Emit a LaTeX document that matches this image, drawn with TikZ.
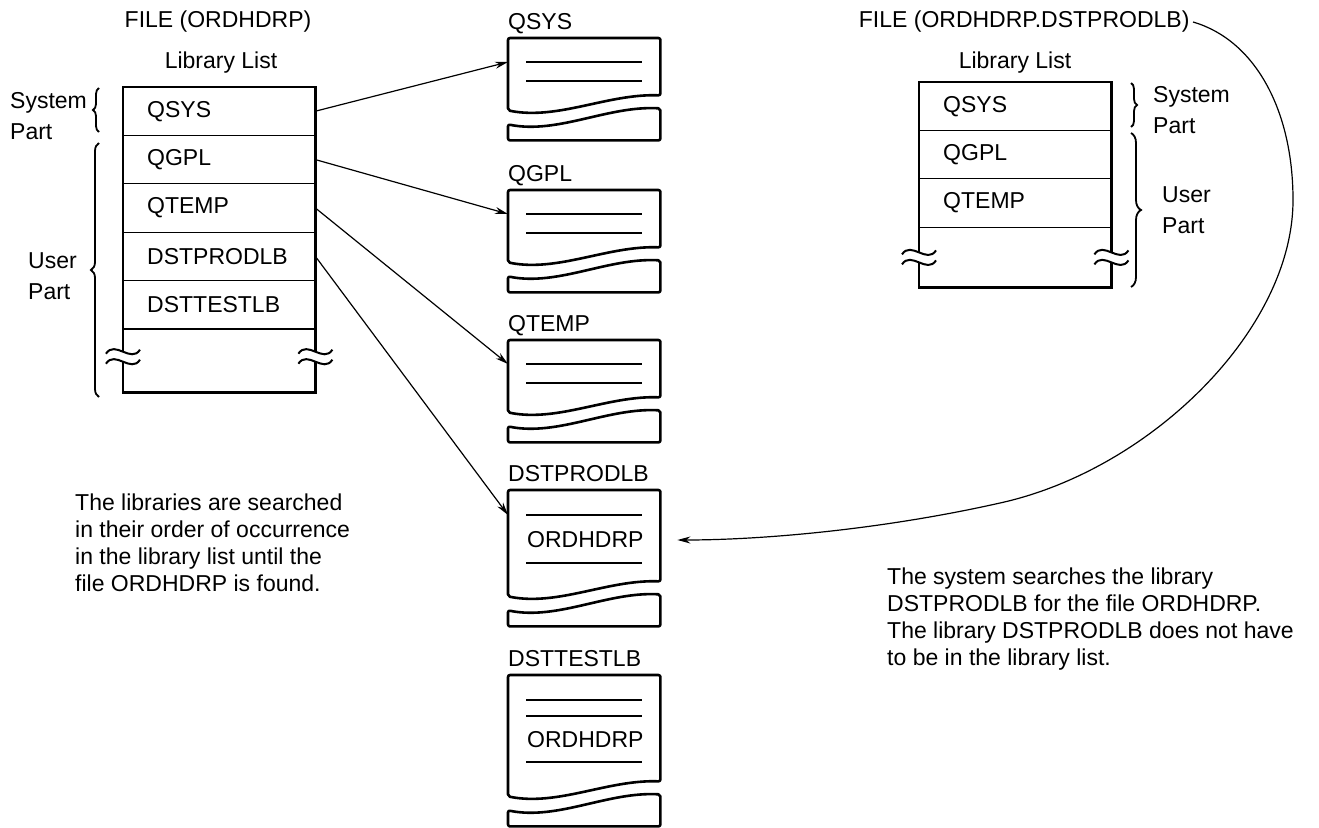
\documentclass[tikz,border=0pt]{standalone}
\usepackage{fontspec}
\setmainfont{Liberation Sans}
\usetikzlibrary{arrows.meta, positioning, calc, decorations.pathreplacing}

% page outline with torn-off bottom
\newcommand{\docpage}[1]{%
  \draw[docline] (#1.north west) -- ($(#1.south west)+(0,-30)$)
    .. controls ($(#1.south west)+(50,-20)$) and ($(#1.south west)+(100,-47)$) .. ($(#1.south east)+(0,-45)$)
    -- (#1.north east) -- cycle;
  \draw[docline] ($(#1.south west)+(0,-16)$)
    .. controls ($(#1.south west)+(50,-6)$) and ($(#1.south west)+(100,-35)$) .. ($(#1.south east)+(0,-32)$)
    -- (#1.south east) -- (#1.south west) -- cycle;
}

% break mark on a vertical edge
\newcommand{\gapmark}[1]{%
  \begin{scope}[shift={(#1)}]
    \fill[white] (-17,-3) .. controls (-8,-17) and (8,7) .. (17,-7) -- (17,3) .. controls (8,17) and (-8,-7) .. (-17,7) -- cycle;
    \draw[line width=2pt] (-17,-3) .. controls (-8,-17) and (8,7) .. (17,-7);
    \draw[line width=2pt] (-17,7) .. controls (-8,-7) and (8,17) .. (17,3);
  \end{scope}}

\begin{document}
\begin{tikzpicture}[
    x=1pt, y=-1pt,
    font=\fontsize{23}{27}\selectfont,
    row/.style={minimum height=48pt, text width=144pt, inner xsep=24pt, inner ysep=0pt, align=left},
    frame/.style={line width=2.4pt},
    sep/.style={line width=1.3pt},
    docbox/.style={anchor=north west, minimum width=152pt, inner sep=0pt},
    docline/.style={line width=2.6pt, line join=round, rounded corners=2pt},
    rule/.style={line width=1.3pt},
    doclabel/.style={anchor=base west, inner sep=0pt},
    side/.style={anchor=north west, align=left, inner sep=0pt, font=\fontsize{23}{31}\selectfont},
    note/.style={anchor=north west, align=left, inner sep=0pt},
    curly/.style={decorate, decoration={brace, amplitude=#1}, line width=1.8pt},
    arrow/.style={-{Stealth[length=13pt, width=7pt]}, line width=1.2pt},
]
    \useasboundingbox (0,0) rectangle (1319,827);

    % Left library list
    \node (ltitle) at (218,22) {FILE (ORDHDRP)};
    \node (llist) at (221,63) {Library List};
    \node[row, anchor=north west] (lsys) at (123,87) {QSYS};
    \node[row, below=0pt of lsys] (lgpl) {QGPL};
    \node[row, below=0pt of lgpl] (ltemp) {QTEMP};
    \node[row, below=0pt of ltemp] (lprod) {DSTPRODLB};
    \node[row, below=0pt of lprod] (ltest) {DSTTESTLB};
    \node[row, below=0pt of ltest, minimum height=63pt] (lrest) {};
    \draw[frame] (lsys.north west) rectangle (lrest.south east);
    \foreach \r in {lsys,lgpl,ltemp,lprod,ltest}
      \draw[sep] (\r.south west) -- (\r.south east);
    \gapmark{$(lrest.west)+(0,-4)$}
    \gapmark{$(lrest.east)+(0,-4)$}

    \draw[curly=6pt] (99,132) -- (99,88);
    \draw[curly=8pt] (99,397) -- (99,143);
    \node[side] (lsyspart) at (10,92) {System\\Part};
    \node[side] (luserpart) at (28,252) {User\\Part};

    % Right library list
    \node[anchor=east] (rtitle) at (1193,22) {FILE (ORDHDRP.DSTPRODLB)};
    \node (rlist) at (1015,63) {Library List};
    \node[row, anchor=north west] (rsys) at (919,82) {QSYS};
    \node[row, below=0pt of rsys] (rgpl) {QGPL};
    \node[row, below=0pt of rgpl] (rtemp) {QTEMP};
    \node[row, below=0pt of rtemp, minimum height=60pt] (rrest) {};
    \draw[frame] (rsys.north west) rectangle (rrest.south east);
    \foreach \r in {rsys,rgpl,rtemp}
      \draw[sep] (\r.south west) -- (\r.south east);
    \gapmark{$(rrest.west)$}
    \gapmark{$(rrest.east)$}

    \draw[curly=6pt] (1131,83) -- (1131,127);
    \draw[curly=10pt] (1131,133) -- (1131,287);
    \node[side] (rsyspart) at (1153,86) {System\\Part};
    \node[side] (ruserpart) at (1162,186) {User\\Part};

    % Libraries
    \foreach \n/\t/\y in {dsys/QSYS/38, dgpl/QGPL/190, dtemp/QTEMP/340} {
      \node[docbox, minimum height=102pt] (\n) at (508,\y) {};
      \node[doclabel] (\n-lbl) at ([yshift=9pt]\n.north west) {\t};
      \docpage{\n}
      \draw[rule] ([xshift=18pt,yshift=-24pt]\n.north west) -- ++(116,0);
      \draw[rule] ([xshift=18pt,yshift=-43pt]\n.north west) -- ++(116,0);
      \coordinate (\n-in) at ([yshift=-24pt]\n.north west);
    }

    \node[docbox, minimum height=136pt] (dprod) at (508,490) {};
    \node[doclabel] (dprod-lbl) at ([yshift=9pt]dprod.north west) {DSTPRODLB};
    \docpage{dprod}
    \draw[rule] ([xshift=18pt,yshift=-25pt]dprod.north west) -- ++(116,0);
    \node[anchor=west, inner sep=0pt] (dprodfile) at ([xshift=19pt,yshift=-50pt]dprod.north west) {ORDHDRP};
    \draw[rule] ([xshift=18pt,yshift=-73pt]dprod.north west) -- ++(116,0);
    \coordinate (dprod-in) at ([yshift=-25pt]dprod.north west);

    \node[docbox, minimum height=151pt] (dtest) at (508,675) {};
    \node[doclabel] (dtest-lbl) at ([yshift=9pt]dtest.north west) {DSTTESTLB};
    \docpage{dtest}
    \draw[rule] ([xshift=18pt,yshift=-25pt]dtest.north west) -- ++(116,0);
    \draw[rule] ([xshift=18pt,yshift=-41pt]dtest.north west) -- ++(116,0);
    \node[anchor=west, inner sep=0pt] (dtestfile) at ([xshift=19pt,yshift=-65pt]dtest.north west) {ORDHDRP};
    \draw[rule] ([xshift=18pt,yshift=-87pt]dtest.north west) -- ++(116,0);

    % Arrows
    \draw[arrow] (lsys.east) -- (dsys-in);
    \draw[arrow] (lgpl.east) -- (dgpl-in);
    \draw[arrow] (ltemp.east) -- (dtemp-in);
    \draw[arrow] (lprod.east) -- (dprod-in);
    \draw[arrow, shorten >=17pt] (rtitle.east) .. controls (1255,40) and (1293,110) .. (1293,200)
      .. controls (1293,330) and (1150,470) .. (1000,503)
      .. controls (880,530) and (760,540) .. (dprodfile -| dprod.east);

    % Notes
    \node[note] (lnote) at (75,494) {The libraries are searched\\in their order of occurrence\\in the library list until the\\file ORDHDRP is found.};
    \node[note] (rnote) at (887,568) {The system searches the library\\DSTPRODLB for the file ORDHDRP.\\The library DSTPRODLB does not have\\to be in the library list.};
\end{tikzpicture}
\end{document}
